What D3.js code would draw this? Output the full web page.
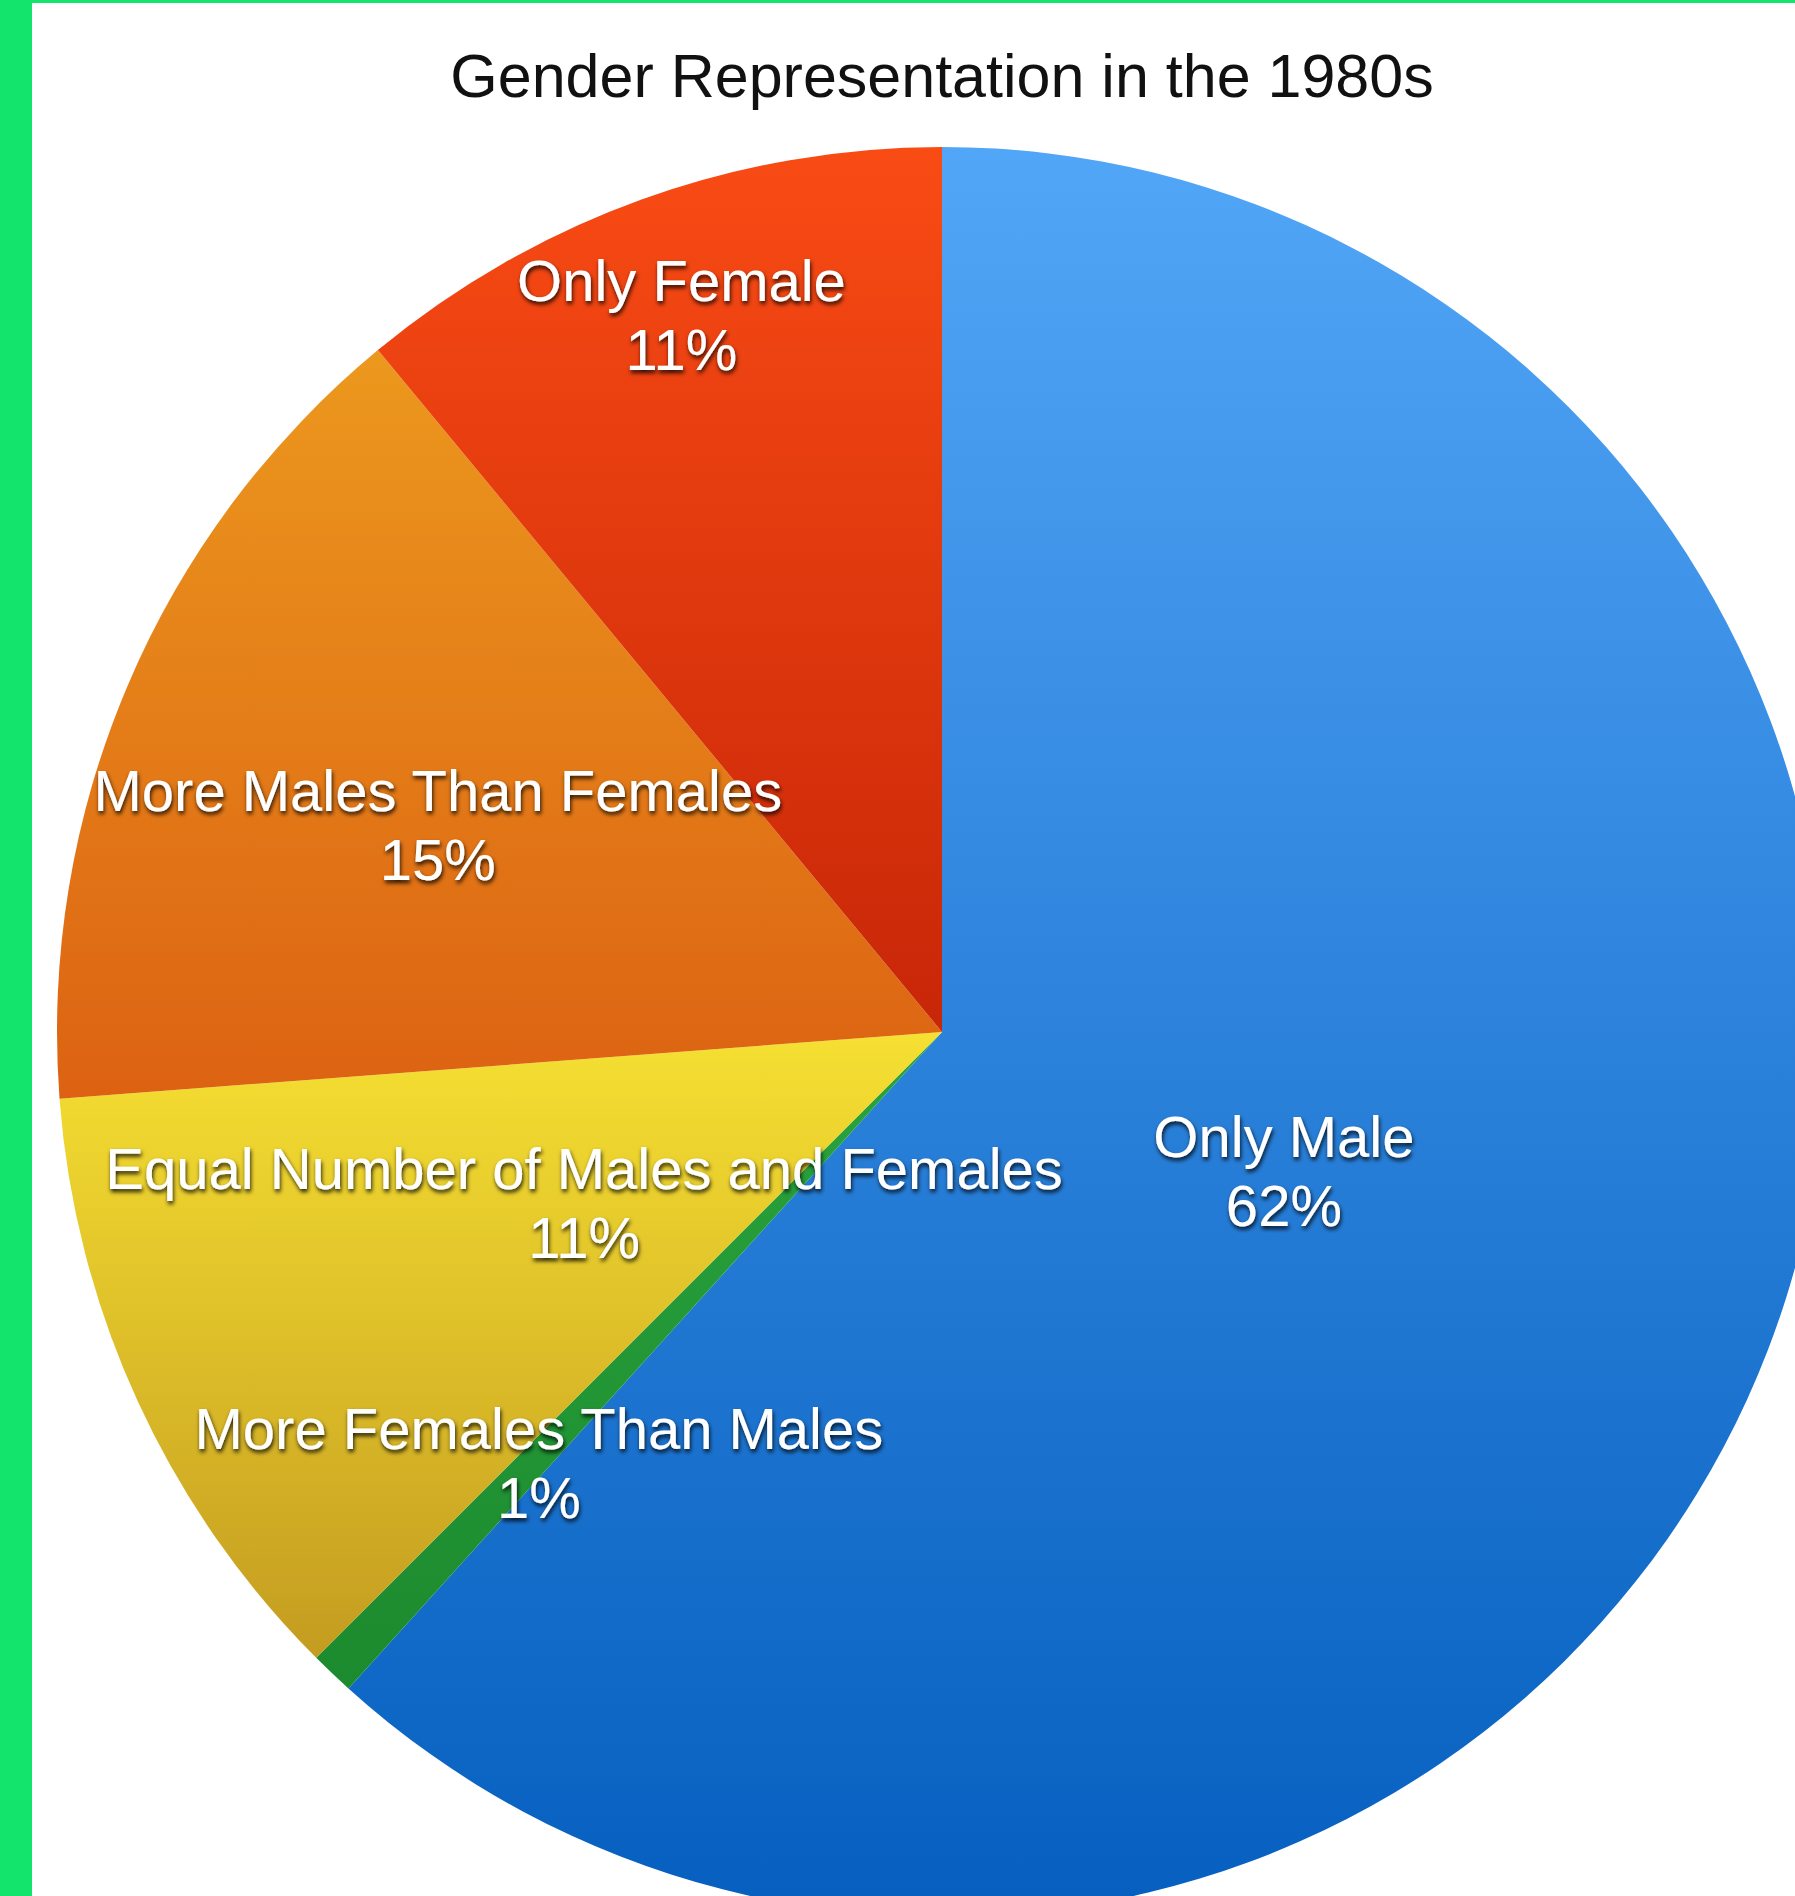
<!DOCTYPE html>
<html>
<head>
<meta charset="utf-8">
<script src="https://cdn.jsdelivr.net/npm/d3@7"></script>
<style>
  html, body { margin: 0; padding: 0; background: #fff; }
  svg { display: block; }
</style>
</head>
<body>
<svg id="chart"></svg>
<script>
// data (slices go clockwise from 12 o'clock)
const categories = ['Only Male', 'More Females Than Males', 'Equal Number of Males and Females', 'More Males Than Females', 'Only Female']
const shares = [61.7, 0.8, 11.3, 15.2, 11.0]
const shareLabels = ['62%', '1%', '11%', '15%', '11%']
const title = 'Gender Representation in the 1980s'

// styling, kept apart from the data
const gradTop = ['#52a6f7', '#2aa43e', '#f6e032', '#ec981e', '#f94b14']
const gradBottom = ['#065fbf', '#1c8a2e', '#c49c20', '#dc6212', '#c72608']
const labelRadius = [0.414, 0.661, 0.445, 0.619, 0.869]

const width = 1795
const height = 1896
const cx = 942
const cy = 1032
const radius = 885

const svg = d3.select('#chart')
  .attr('width', width)
  .attr('height', height)

svg.append('rect').attr('width', width).attr('height', height).attr('fill', '#fff')

const defs = svg.append('defs')

categories.forEach((c, i) => {
  const g = defs.append('linearGradient')
    .attr('id', 'grad' + i)
    .attr('x1', 0).attr('y1', 0).attr('x2', 0).attr('y2', 1)
  g.append('stop').attr('offset', '0%').attr('stop-color', gradTop[i])
  g.append('stop').attr('offset', '100%').attr('stop-color', gradBottom[i])
})

const shadow = defs.append('filter')
  .attr('id', 'shadow')
  .attr('x', '-10%').attr('y', '-30%').attr('width', '120%').attr('height', '160%')
shadow.append('feDropShadow')
  .attr('dx', 1).attr('dy', 3).attr('stdDeviation', 2)
  .attr('flood-color', '#000').attr('flood-opacity', 0.85)

// green frame edges
svg.append('rect').attr('x', 0).attr('y', 0).attr('width', width).attr('height', 3).attr('fill', '#12e46c')
svg.append('rect').attr('x', 0).attr('y', 0).attr('width', 32).attr('height', height).attr('fill', '#12e46c')

svg.append('text')
  .attr('x', cx)
  .attr('y', 97)
  .attr('text-anchor', 'middle')
  .style('font-family', '"Liberation Sans", Arial, Helvetica, sans-serif')
  .style('font-size', '61px')
  .attr('fill', '#111')
  .text(title)

const pie = d3.pie().sort(null).value(d => d)
const arcs = pie(shares)

const arc = d3.arc().innerRadius(0).outerRadius(radius)

const g = svg.append('g').attr('transform', 'translate(' + cx + ',' + cy + ')')

g.selectAll('path')
  .data(arcs)
  .enter().append('path')
  .attr('d', arc)
  .attr('fill', (d, i) => 'url(#grad' + i + ')')

const labels = g.selectAll('text.lbl')
  .data(arcs)
  .enter().append('text')
  .attr('class', 'lbl')
  .attr('transform', (d, i) => {
    const r = radius * labelRadius[i]
    const p = d3.arc().innerRadius(r).outerRadius(r).centroid(d)
    return 'translate(' + p[0] + ',' + (p[1] - 7) + ')'
  })
  .attr('text-anchor', 'middle')
  .style('font-family', '"Liberation Sans", Arial, Helvetica, sans-serif')
  .style('font-size', '58px')
  .attr('fill', '#fff')
  .attr('filter', 'url(#shadow)')

labels.append('tspan').attr('x', 0).attr('y', 0).text((d, i) => categories[i])
labels.append('tspan').attr('x', 0).attr('y', 69).text((d, i) => shareLabels[i])
</script>
</body>
</html>
